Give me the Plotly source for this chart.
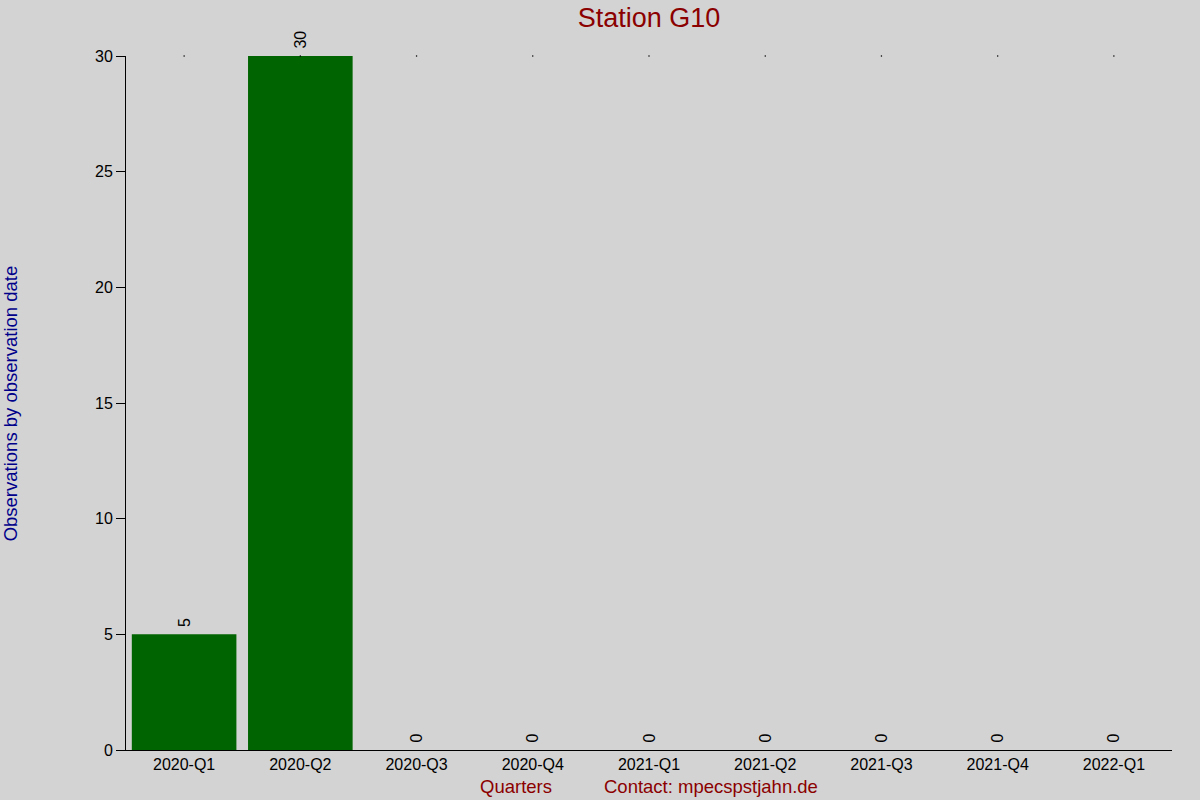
import plotly.graph_objects as go

quartale = ["2020-Q1", "2020-Q2", "2020-Q3", "2020-Q4", "2021-Q1",
            "2021-Q2", "2021-Q3", "2021-Q4", "2022-Q1"]
beobachtungen = [5, 30, 0, 0, 0, 0, 0, 0, 0]
y_ticks = [0, 5, 10, 15, 20, 25, 30]

schrift = "Liberation Sans, Arial, sans-serif"

fig = go.Figure()
fig.add_trace(go.Bar(
    x=quartale, y=beobachtungen,
    marker=dict(color="#006400", line=dict(width=0)),
    # kleiner Abstand zwischen Balken und Zahl
    text=["\u00a0" + str(v) for v in beobachtungen],
    textposition="outside", textangle=-90,
    textfont=dict(family=schrift, size=16, color="black"),
    cliponaxis=False, width=0.9,
))
# kleine Punkte oben an jeder Kategorie
fig.add_trace(go.Scatter(
    x=quartale, y=[max(y_ticks)] * len(quartale),
    mode="markers", marker=dict(color="black", size=1.5),
    hoverinfo="skip", cliponaxis=False,
))

fig.update_layout(
    width=1200, height=800,
    paper_bgcolor="#d3d3d3", plot_bgcolor="#d3d3d3",
    margin=dict(l=126, r=28, t=56, b=50),
    showlegend=False,
    font=dict(family=schrift, size=16, color="black"),
    title=dict(text="Station G10", x=0.5, xref="paper", xanchor="center",
               y=0.99, yref="container", yanchor="top",
               font=dict(size=27, color="#8b0000")),
    xaxis=dict(categoryorder="array", categoryarray=quartale,
               showgrid=False, showline=True, linecolor="black", linewidth=1,
               ticks="", tickfont=dict(size=16), range=[-0.5, 8.5]),
    yaxis=dict(range=[0, 30], tickvals=y_ticks, showgrid=False, zeroline=False,
               showline=True, linecolor="black", linewidth=1,
               ticks="outside", ticklen=9, tickcolor="black",
               tickfont=dict(size=16)),
    annotations=[
        dict(text="Observations by observation date", textangle=-90,
             x=-0.1225, xref="paper", y=0.5, yref="paper", showarrow=False,
             font=dict(size=18.5, color="#00008b")),
        dict(text="Quarters", x=0.373, xref="paper", y=-0.052, yref="paper",
             yanchor="middle", showarrow=False, font=dict(size=18.5, color="#8b0000")),
        dict(text="Contact: mpecspstjahn.de", x=0.455, xref="paper", xanchor="left",
             y=-0.052, yref="paper", yanchor="middle", showarrow=False,
             font=dict(size=18.5, color="#8b0000")),
    ],
)

# Seitenrand weg und grauer Hintergrund
fig.write_html("out.html", config={"displayModeBar": False}, post_script=(
    "document.body.style.margin='0';"
    "document.body.style.background='#d3d3d3';"
))
